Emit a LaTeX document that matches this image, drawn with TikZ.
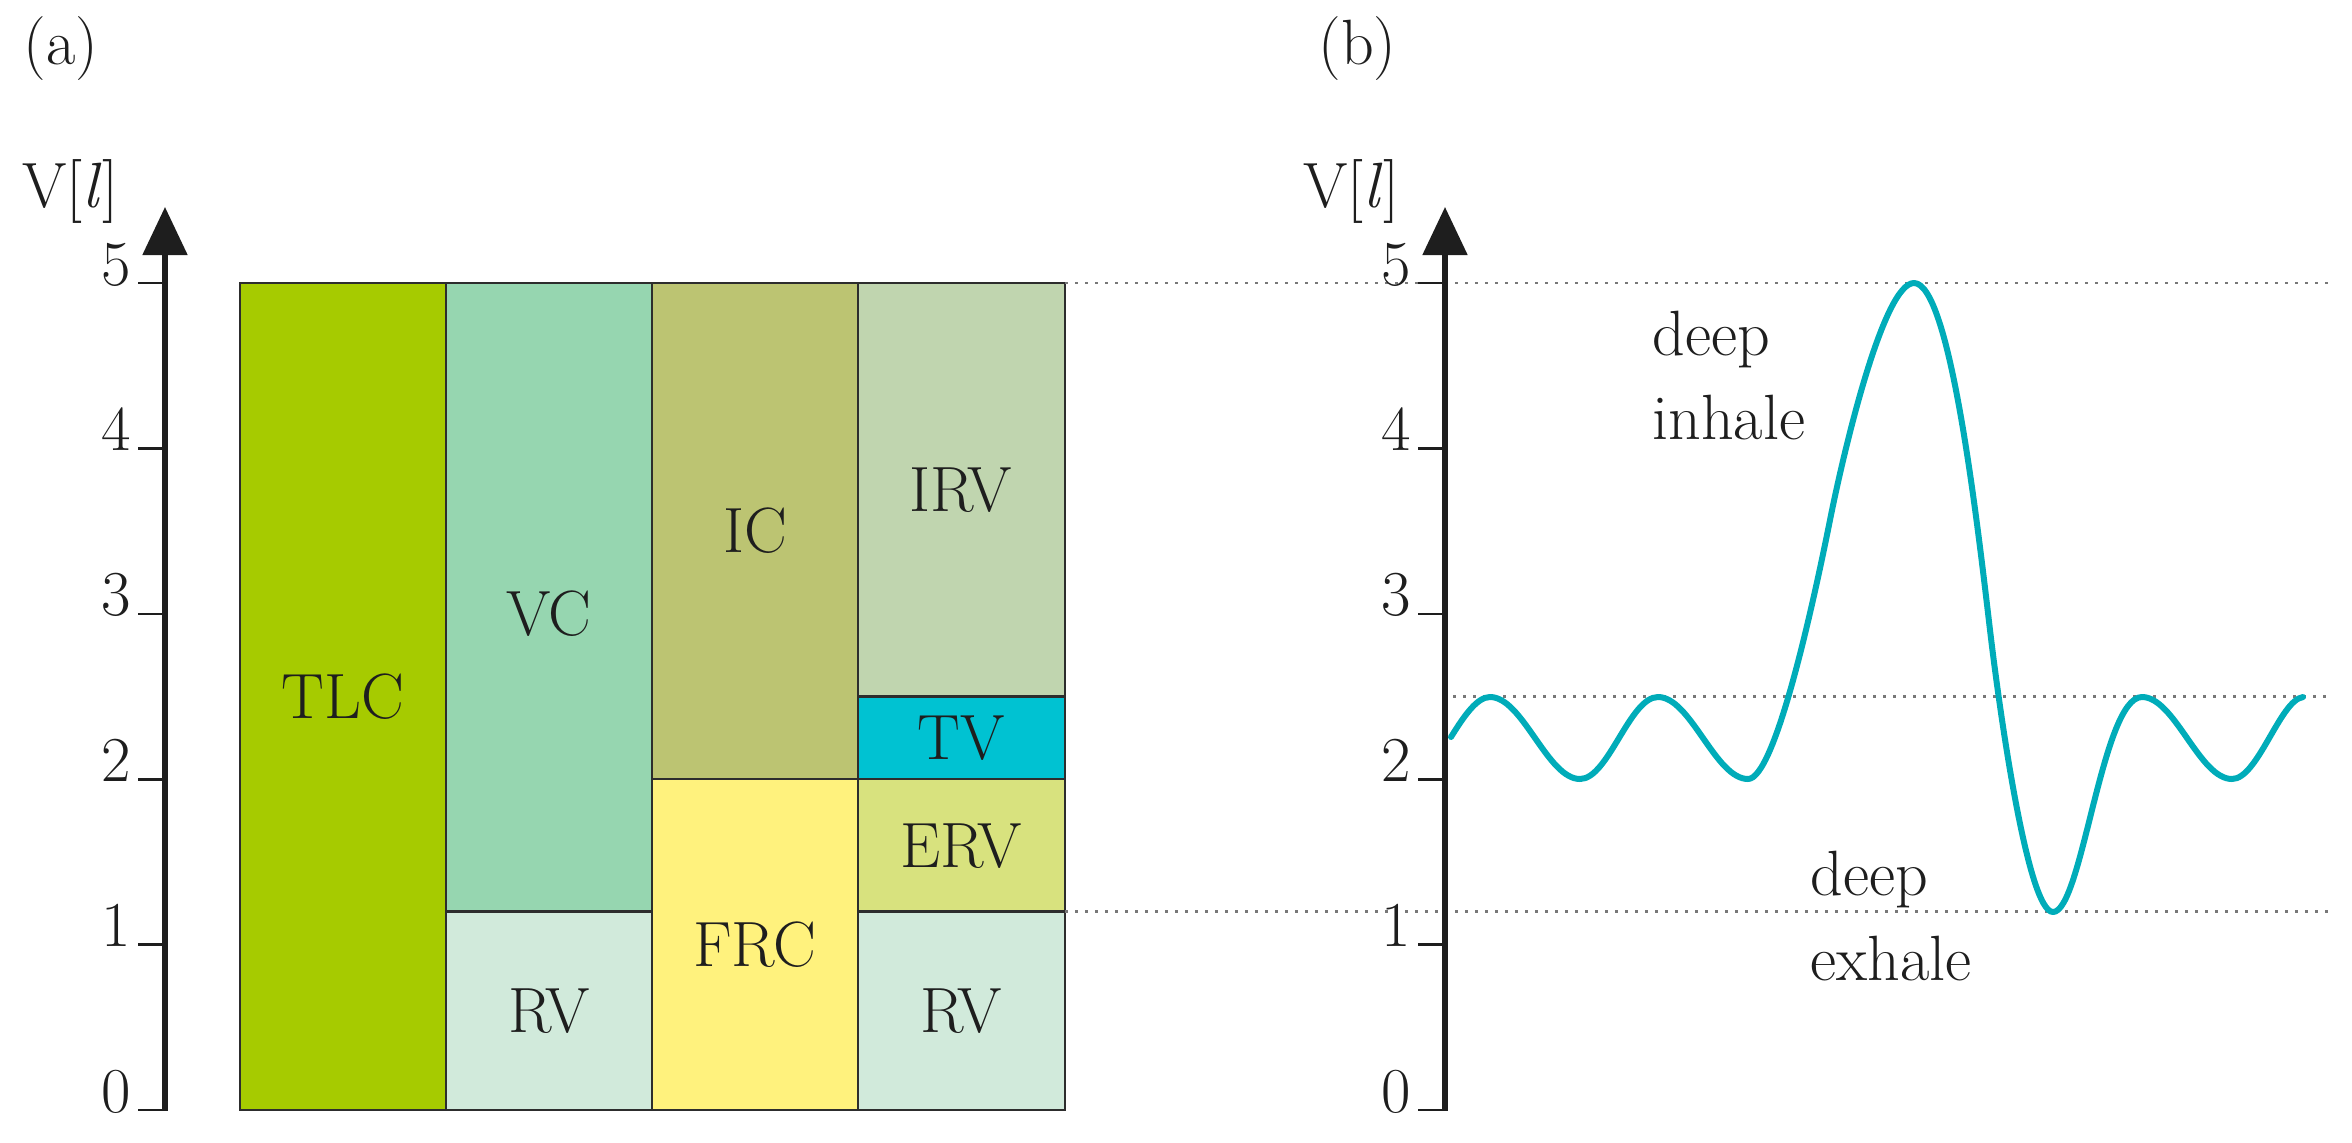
\documentclass[tikz,border=0pt]{standalone}
\usetikzlibrary{arrows.meta}
\definecolor{cTLC}{RGB}{166,203,0}
\definecolor{cVC}{RGB}{150,214,176}
\definecolor{cIC}{RGB}{188,196,114}
\definecolor{cIRV}{RGB}{192,213,175}
\definecolor{cTV}{RGB}{0,194,210}
\definecolor{cERV}{RGB}{216,226,126}
\definecolor{cFRC}{RGB}{255,242,125}
\definecolor{cRV}{RGB}{209,234,219}
\definecolor{boxline}{RGB}{45,45,45}
\definecolor{axc}{RGB}{30,30,30}
\definecolor{txt}{RGB}{30,30,30}
\definecolor{dotc}{RGB}{120,120,120}
\definecolor{curvec}{RGB}{0,172,185}
\begin{document}
\begin{tikzpicture}[x=0.5pt,y=-0.5pt,
  box/.style={draw=boxline,line width=1.2pt},
  lab/.style={font=\fontsize{32}{42}\selectfont, text=txt, inner sep=0pt},
  axisline/.style={line width=2.6pt, draw=axc, -{Triangle[length=24pt,width=22pt]}},
  tickline/.style={line width=1.3pt, draw=axc},
  dotline/.style={draw=dotc, line width=1.3pt, dash pattern=on 1.3pt off 3.7pt},
  curve/.style={draw=curvec, line width=3pt, line join=round, line cap=round}
]
\useasboundingbox (0,0) rectangle (2352,1142);

% ---------- panel (a) ----------
\node[lab, anchor=base west] (pa) at (23,64) {(a)};
\node[lab, anchor=base west] (va) at (22,207) {V[\textit{l}]};

% boxes
\draw[box, fill=cTLC] (240,283) rectangle (446,1110);
\draw[box, fill=cVC]  (446,283) rectangle (652,911.5);
\draw[box, fill=cRV]  (446,911.5) rectangle (652,1110);
\draw[box, fill=cIC]  (652,283) rectangle (858,779.2);
\draw[box, fill=cFRC] (652,779.2) rectangle (858,1110);
\draw[box, fill=cIRV] (858,283) rectangle (1065,696.5);
\draw[box, fill=cTV]  (858,696.5) rectangle (1065,779.2);
\draw[box, fill=cERV] (858,779.2) rectangle (1065,911.5);
\draw[box, fill=cRV]  (858,911.5) rectangle (1065,1110);

\node[lab] (tlc) at (343,697) {TLC};
\node[lab] (vc)  at (549,614) {VC};
\node[lab] (rv1) at (549,1011) {RV};
\node[lab] (ic)  at (755,531) {IC};
\node[lab] (frc) at (755,945) {FRC};
\node[lab] (irv) at (961,490) {IRV};
\node[lab] (tv)  at (961,738) {TV};
\node[lab] (erv) at (961,846) {ERV};
\node[lab] (rv2) at (961,1011) {RV};

% dotted guide lines
\draw[dotline] (1065,283) -- (2330,283);
\draw[dotline] (1453,696.5) -- (2330,696.5);
\draw[dotline] (1065,911.5) -- (2330,911.5);

% axis (a)
\foreach \v/\yy in {0/1110,1/944.6,2/779.2,3/613.8,4/448.4,5/283}{
  \draw[tickline] (138,\yy) -- (166,\yy);
  \node[lab, anchor=base east] (ta\v) at (131,\yy+2) {\v};
}
\draw[axisline] (165,1110.6) -- (165,207);

% ---------- panel (b) ----------
\node[lab, anchor=base west] (pb) at (1318,64) {(b)};
\node[lab, anchor=base west] (vb) at (1303,207) {V[\textit{l}]};

\foreach \v/\yy in {0/1110,1/944.6,2/779.2,3/613.8,4/448.4,5/283}{
  \draw[tickline] (1418,\yy) -- (1446,\yy);
  \node[lab, anchor=base east] (tb\v) at (1411,\yy+2) {\v};
}
\draw[axisline] (1445,1110.6) -- (1445,207);

\draw[curve] (1451,737)
  .. controls (1464,716) and (1477,697) .. (1490,697)
  .. controls (1522.8,697) and (1547.2,779) .. (1580,779)
  .. controls (1608.4,779) and (1629.6,697) .. (1658,697)
  .. controls (1690.8,697) and (1715.2,779) .. (1748,779)
  .. controls (1775,779) and (1813,605) .. (1830,520)
  .. controls (1845,445) and (1884,283) .. (1914,283)
  .. controls (1950,283) and (1977,520) .. (1990,630)
  .. controls (2000,715) and (2028,912) .. (2053,912)
  .. controls (2082,912) and (2102,697) .. (2142,697)
  .. controls (2174.8,697) and (2199.2,779) .. (2232,779)
  .. controls (2257.9,779) and (2280,700) .. (2303,697);

\node[lab, anchor=base west] (din1) at (1652,355) {deep};
\node[lab, anchor=base west] (din2) at (1652,439) {inhale};
\node[lab, anchor=base west] (dex1) at (1810,895) {deep};
\node[lab, anchor=base west] (dex2) at (1810,980) {exhale};
\end{tikzpicture}
\end{document}
